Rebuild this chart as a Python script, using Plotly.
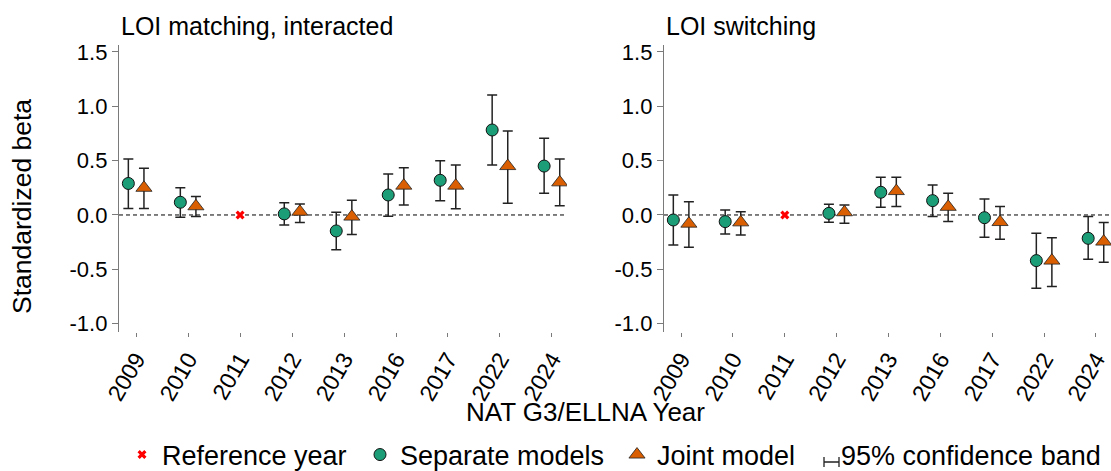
import plotly.graph_objects as go

# ---------------- data ----------------
years = ["2009", "2010", "2011", "2012", "2013", "2016", "2017", "2022", "2024"]
ref_year = "2011"

# LOI matching, interacted
match_sep_est = [0.29, 0.117, None, 0.01, -0.147, 0.184, 0.319, 0.782, 0.45]
match_sep_lo = [0.06, -0.02, None, -0.092, -0.32, -0.012, 0.132, 0.46, 0.20]
match_sep_hi = [0.515, 0.25, None, 0.113, 0.025, 0.377, 0.50, 1.104, 0.706]
match_joint_est = [0.25, 0.08, None, 0.03, -0.015, 0.27, 0.27, 0.45, 0.30]
match_joint_lo = [0.06, -0.015, None, -0.07, -0.18, 0.092, 0.058, 0.108, 0.085]
match_joint_hi = [0.43, 0.17, None, 0.10, 0.135, 0.435, 0.46, 0.773, 0.515]

# LOI switching
switch_sep_est = [-0.046, -0.061, None, 0.015, 0.209, 0.132, -0.025, -0.42, -0.215]
switch_sep_lo = [-0.276, -0.175, None, -0.068, 0.071, -0.015, -0.205, -0.675, -0.408]
switch_sep_hi = [0.184, 0.046, None, 0.098, 0.347, 0.276, 0.147, -0.169, -0.015]
switch_joint_est = [-0.08, -0.068, None, 0.025, 0.22, 0.075, -0.065, -0.42, -0.245]
switch_joint_lo = [-0.297, -0.184, None, -0.077, 0.077, -0.061, -0.224, -0.659, -0.435]
switch_joint_hi = [0.122, 0.03, None, 0.092, 0.347, 0.2, 0.077, -0.209, -0.07]

panel_titles = ["LOI matching, interacted", "LOI switching"]
y_ticks = [-1.0, -0.5, 0.0, 0.5, 1.0, 1.5]

# ---------------- style ----------------
W, H = 1111, 471
FONT = "Liberation Sans, Arial, sans-serif"
GREEN = "#1b9e77"
ORANGE = "#d95f02"
DODGE = 0.15
ERR_COLOR = "#222222"
AX_GRAY = "#7a7a7a"


def px_x(p):
    return p / W


def px_y(p):
    return 1 - p / H


idx = list(range(len(years)))
ref_idx = years.index(ref_year)


def err(est, lo, hi):
    plus = [None if e is None else h - e for e, h in zip(est, hi)]
    minus = [None if e is None else e - l for e, l in zip(est, lo)]
    return plus, minus


fig = go.Figure()

panels = [
    (match_sep_est, match_sep_lo, match_sep_hi, match_joint_est, match_joint_lo, match_joint_hi),
    (switch_sep_est, switch_sep_lo, switch_sep_hi, switch_joint_est, switch_joint_lo, switch_joint_hi),
]

for p, (se, sl, sh, je, jl, jh) in enumerate(panels):
    xa = "x" if p == 0 else "x2"
    ya = "y" if p == 0 else "y2"
    show = p == 0
    fig.add_trace(go.Scatter(
        x=[ref_idx], y=[0], xaxis=xa, yaxis=ya, mode="markers",
        marker=dict(symbol="x", size=8, color="#ff0000", line=dict(width=0)),
        name="Reference year", showlegend=show, legend="legend", hoverinfo="skip"))
    sp, sm = err(se, sl, sh)
    fig.add_trace(go.Scatter(
        x=[i - DODGE for i in idx], y=se, xaxis=xa, yaxis=ya, mode="markers",
        marker=dict(symbol="circle", size=12, color=GREEN, line=dict(width=1, color="#111111")),
        error_y=dict(type="data", array=sp, arrayminus=sm, symmetric=False,
                     color=ERR_COLOR, thickness=1.5, width=5),
        name="Separate models", showlegend=show, legend="legend2"))
    jp, jm = err(je, jl, jh)
    fig.add_trace(go.Scatter(
        x=[i + DODGE for i in idx], y=je, xaxis=xa, yaxis=ya, mode="markers",
        marker=dict(symbol="triangle-up", size=14, color=ORANGE, line=dict(width=0.8, color="#222222")),
        error_y=dict(type="data", array=jp, arrayminus=jm, symmetric=False,
                     color=ERR_COLOR, thickness=1.5, width=5),
        name="Joint model", showlegend=show, legend="legend3"))

# legend-only entry for the confidence band (key glyph drawn as a small H below)
fig.add_trace(go.Scatter(
    x=[None], y=[None], mode="markers",
    marker=dict(symbol="line-ew-open", size=12, color="rgba(0,0,0,0)",
                line=dict(width=1.5, color="rgba(0,0,0,0)")),
    name="95% confidence band", showlegend=True, legend="legend4"))

xrange = [-0.33, 8.29]
yrange = [-1.074, 1.564]
ydom = [px_y(331.7), px_y(45)]

common_x = dict(range=xrange, tickmode="array", tickvals=idx, ticktext=years,
                tickangle=-60, ticks="outside", ticklen=4, tickwidth=1, tickcolor=AX_GRAY,
                showline=False, showgrid=False, zeroline=False, automargin=False,
                tickfont=dict(family=FONT, size=23, color="black"))
common_y = dict(range=yrange, tickmode="array", tickvals=y_ticks,
                ticktext=[f"{v:.1f}" for v in y_ticks],
                ticks="outside", ticklen=6, tickwidth=1, tickcolor=AX_GRAY,
                showline=True, linecolor=AX_GRAY, linewidth=1.3,
                showgrid=False, zeroline=False, automargin=False,
                tickfont=dict(family=FONT, size=22, color="black"))

fig.update_layout(
    width=W, height=H,
    margin=dict(l=0, r=0, t=0, b=0, autoexpand=False),
    paper_bgcolor="white", plot_bgcolor="white",
    font=dict(family=FONT, color="black"),
    xaxis=dict(domain=[px_x(119), px_x(567)], anchor="y", **common_x),
    yaxis=dict(domain=ydom, anchor="x", **common_y),
    xaxis2=dict(domain=[px_x(664), 1.0], anchor="y2", **common_x),
    yaxis2=dict(domain=ydom, anchor="x2", **common_y),
)

leg_common = dict(orientation="h", yanchor="middle", y=px_y(455), xanchor="left",
                  font=dict(family=FONT, size=27, color="black"),
                  bgcolor="rgba(0,0,0,0)", borderwidth=0, itemwidth=30)
fig.update_layout(
    legend=dict(x=px_x(122), **leg_common),
    legend2=dict(x=px_x(360), **leg_common),
    legend3=dict(x=px_x(617), **leg_common),
    legend4=dict(x=px_x(801), **leg_common),
)

# zero reference lines
for xr, yr in [("x domain", "y"), ("x2 domain", "y2")]:
    fig.add_shape(type="line", xref=xr, yref=yr, x0=0, x1=1, y0=0, y1=0,
                  line=dict(color="black", width=1, dash="4px,3px"), layer="below")

# "H" key glyph for the confidence band legend entry
hx0, hx1, hy0, hy1 = px_x(824), px_x(839), px_y(467), px_y(457)
hym = (hy0 + hy1) / 2
fig.add_shape(type="path", xref="paper", yref="paper",
              path=f"M{hx0},{hy0} L{hx0},{hy1} M{hx1},{hy0} L{hx1},{hy1} M{hx0},{hym} L{hx1},{hym}",
              line=dict(color=ERR_COLOR, width=1.3))

# panel titles
for dom_left, title in zip([px_x(119), px_x(664)], panel_titles):
    fig.add_annotation(text=title, xref="paper", yref="paper", x=dom_left, y=px_y(26),
                       xanchor="left", yanchor="middle", showarrow=False,
                       font=dict(family=FONT, size=25, color="black"))

# axis titles
fig.add_annotation(text="Standardized beta", xref="paper", yref="paper",
                   x=px_x(22), y=px_y(207), textangle=-90, xanchor="center", yanchor="middle",
                   showarrow=False, font=dict(family=FONT, size=26.5, color="black"))
fig.add_annotation(text="NAT G3/ELLNA Year", xref="paper", yref="paper",
                   x=px_x(585), y=px_y(412), xanchor="center", yanchor="middle",
                   showarrow=False, font=dict(family=FONT, size=26, color="black"))

fig.write_html("out.html",
               config={"displayModeBar": False},
               post_script="document.body.style.margin='0';document.body.style.padding='0';")
